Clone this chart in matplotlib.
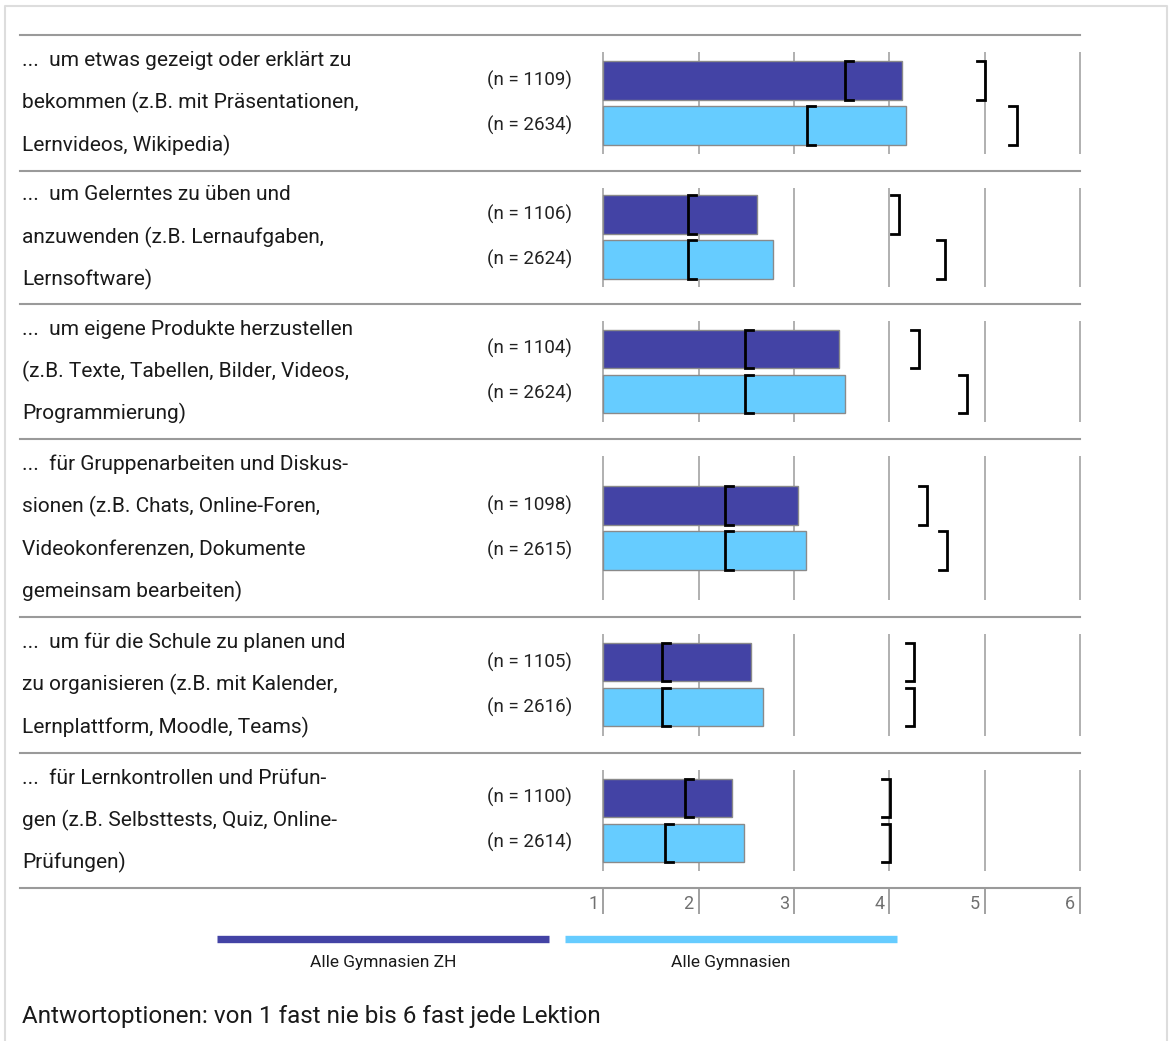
import matplotlib.pyplot as plt
from matplotlib.lines import Line2D

plt.rcParams['font.family'] = ['Roboto', 'DejaVu Sans']

# data
labels = [
    "...  um etwas gezeigt oder erklärt zu\nbekommen (z.B. mit Präsentationen,\nLernvideos, Wikipedia)",
    "...  um Gelerntes zu üben und\nanzuwenden (z.B. Lernaufgaben,\nLernsoftware)",
    "...  um eigene Produkte herzustellen\n(z.B. Texte, Tabellen, Bilder, Videos,\nProgrammierung)",
    "...  für Gruppenarbeiten und Diskus-\nsionen (z.B. Chats, Online-Foren,\nVideokonferenzen, Dokumente\ngemeinsam bearbeiten)",
    "...  um für die Schule zu planen und\nzu organisieren (z.B. mit Kalender,\nLernplattform, Moodle, Teams)",
    "...  für Lernkontrollen und Prüfun-\ngen (z.B. Selbsttests, Quiz, Online-\nPrüfungen)",
]
n_zh = [1109, 1106, 1104, 1098, 1105, 1100]
n_all = [2634, 2624, 2624, 2615, 2616, 2614]
mean_zh = [4.13, 2.61, 3.47, 3.04, 2.55, 2.35]
mean_all = [4.17, 2.78, 3.54, 3.13, 2.68, 2.48]
lo_zh = [3.53, 1.89, 2.49, 2.28, 1.62, 1.86]
hi_zh = [5.00, 4.10, 4.31, 4.40, 4.26, 4.01]
lo_all = [3.14, 1.89, 2.49, 2.28, 1.62, 1.65]
hi_all = [5.34, 4.58, 4.81, 4.60, 4.26, 4.01]
series = ["Alle Gymnasien ZH", "Alle Gymnasien"]
ticks = [1, 2, 3, 4, 5, 6]
footer = "Antwortoptionen: von 1 fast nie bis 6 fast jede Lektion"

c_zh = '#4343a5'
c_all = '#66ccff'
grey = '#9a9a9a'

W, H = 1169, 1041
X1 = 603.3      # pixel of value 1
UNIT = 95.35    # pixels per scale unit


def px2x(px):
    return 1 + (px - X1) / UNIT


fig = plt.figure(figsize=(W / 100, H / 100), dpi=100)
ax = fig.add_axes([0, 0, 1, 1])
ax.set_xlim(px2x(0), px2x(W))
ax.set_ylim(H, 0)
ax.axis('off')

# outer frame
fig.add_artist(Line2D([5 / W, 5 / W, 1167 / W, 1167 / W], [0, 1 - 6 / H, 1 - 6 / H, 0],
                      transform=fig.transFigure, color='#dddddd', lw=1.5))

seps = [35, 170.5, 303.5, 439, 616.5, 752.5, 888]
bar_h = 38.5
line_gap = 42.5
x_left = px2x(20)

for y in seps:
    ax.plot([x_left, 6], [y, y], color=grey, lw=1.5, zorder=1)


def bracket(x, y0, y1, side):
    d = 8 / UNIT * side
    ax.plot([x + d, x, x, x + d], [y0, y0, y1, y1], color='black', lw=2.0,
            solid_joinstyle='miter', zorder=4)


for i, lab in enumerate(labels):
    top, bot = seps[i], seps[i + 1]
    c = (top + bot) / 2
    ax.vlines(ticks, top + 17, bot - 17, color='#aaaaaa', lw=1.3, zorder=1)

    yz, ya = c - 22.5, c + 22.5
    ax.barh(yz, mean_zh[i] - 1, left=1, height=bar_h, color=c_zh,
            edgecolor='#8a8a8a', lw=1, zorder=2)
    ax.barh(ya, mean_all[i] - 1, left=1, height=bar_h, color=c_all,
            edgecolor='#8a8a8a', lw=1, zorder=2)
    for y, lo, hi in [(yz, lo_zh[i], hi_zh[i]), (ya, lo_all[i], hi_all[i])]:
        bracket(lo, y - bar_h / 2, y + bar_h / 2, 1)
        bracket(hi, y - bar_h / 2, y + bar_h / 2, -1)

    ax.text(px2x(572), yz, f"(n = {n_zh[i]})", ha='right', va='center',
            fontsize=13.5, color='#222222')
    ax.text(px2x(572), ya, f"(n = {n_all[i]})", ha='right', va='center',
            fontsize=13.5, color='#222222')

    lines = lab.split('\n')
    y0 = c - line_gap * (len(lines) - 1) / 2
    for k, ln in enumerate(lines):
        ax.text(px2x(22), y0 + k * line_gap + 6, ln, ha='left', va='baseline',
                fontsize=15, color='#1a1a1a')

# scale axis
ax.vlines(ticks, seps[-1], seps[-1] + 26, color=grey, lw=1.3)
for t in ticks:
    ax.text(t - 5 / UNIT, 904, str(t), ha='right', va='center', fontsize=13,
            color='#707070')

# legend
leg_x = [(217, 549), (565, 897)]
for (a, b), col, name in zip(leg_x, [c_zh, c_all], series):
    ax.plot([px2x(a), px2x(b)], [938.5, 938.5], color=col, lw=5.3,
            solid_capstyle='butt')
    ax.text(px2x((a + b) / 2), 962, name, ha='center', va='center',
            fontsize=12.5, color='#1a1a1a')

ax.text(px2x(22), 1017, footer, ha='left', va='center', fontsize=17.5,
        color='#1a1a1a')

fig.savefig('out.png', dpi=100)
